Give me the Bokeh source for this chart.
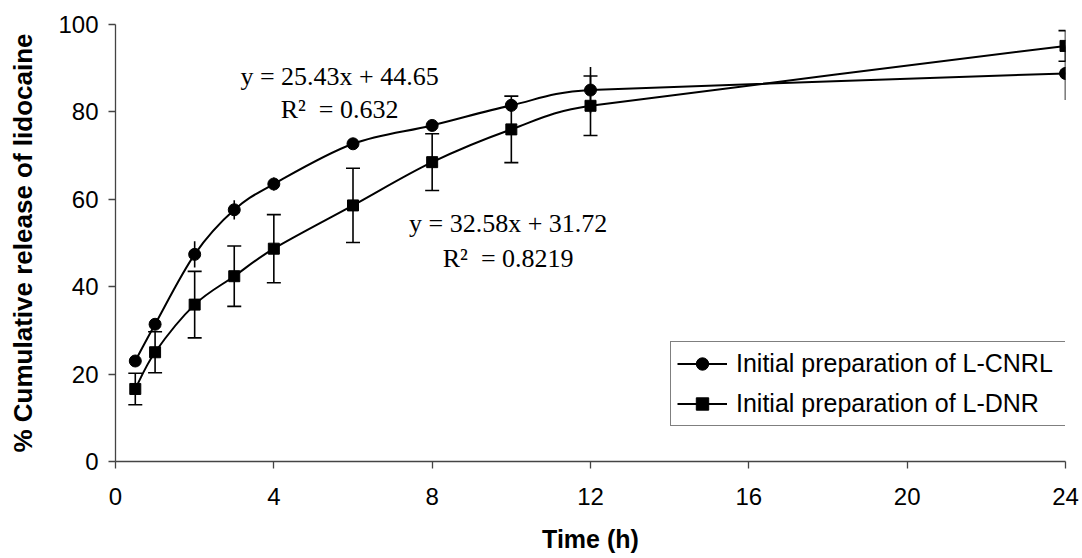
import math
from bokeh.plotting import figure
from bokeh.models import (Range1d, Whisker, TeeHead, ColumnDataSource, Legend,
                          LegendItem, Label, FixedTicker)
from bokeh.embed import file_html
from bokeh.resources import INLINE

# ---------------- data ----------------
time_h = [0.5, 1, 2, 3, 4, 6, 8, 10, 12, 24]
cnrl = [23.0, 31.4, 47.4, 57.6, 63.5, 72.7, 76.9, 81.5, 85.0, 88.8]
cnrl_err = [0.8, 1.0, 3.0, 2.2, 1.5, 0.8, 0.8, 1.5, 5.3, 6.1]
dnr = [16.6, 25.0, 35.9, 42.4, 48.7, 58.6, 68.5, 76.0, 81.4, 95.1]
dnr_err = [3.6, 4.7, 7.6, 6.9, 7.8, 8.5, 6.5, 7.6, 6.8, 3.5]
x_ticks = [0, 4, 8, 12, 16, 20, 24]
y_ticks = [0, 20, 40, 60, 80, 100]
series_labels = ["Initial preparation of L-CNRL", "Initial preparation of L-DNR"]
eq_cnrl = ["y = 25.43x + 44.65", "R\u00b2\u00a0 = 0.632"]
eq_dnr = ["y = 32.58x + 31.72", "R\u00b2\u00a0 = 0.8219"]
x_title = "Time (h)"
y_title = "% Cumulative release of lidocaine"

# ---------------- layout ----------------
W, H = 1082, 558
BL, BR, BT, BB = 115, 17, 24, 97
frame_w = W - BL - BR
frame_h = H - BT - BB
sx = frame_w / (x_ticks[-1] - x_ticks[0])   # px per hour
sy = frame_h / (y_ticks[-1] - y_ticks[0])   # px per percent


def smooth_segments(xs, ys):
    """Excel-like smoothed line: cubic Bezier control points per segment."""
    n = len(xs)
    pts = [(x * sx, y * sy) for x, y in zip(xs, ys)]

    def dist(a, b):
        return math.hypot(a[0] - b[0], a[1] - b[1])

    tans = []
    for i in range(n):
        if i == 0:
            t = (pts[1][0] - pts[0][0], pts[1][1] - pts[0][1])
            lim = dist(pts[0], pts[1])
        elif i == n - 1:
            t = (pts[-1][0] - pts[-2][0], pts[-1][1] - pts[-2][1])
            lim = dist(pts[-1], pts[-2])
        else:
            t = (pts[i + 1][0] - pts[i - 1][0], pts[i + 1][1] - pts[i - 1][1])
            lim = min(dist(pts[i], pts[i - 1]), dist(pts[i], pts[i + 1]))
        tl = math.hypot(*t) or 1.0
        f = min(1.0 / 6.0, 0.5 * lim / tl)
        tans.append((t[0] * f / sx, t[1] * f / sy))
    d = dict(x0=[], y0=[], x1=[], y1=[], cx0=[], cy0=[], cx1=[], cy1=[])
    for i in range(n - 1):
        d["x0"].append(xs[i]); d["y0"].append(ys[i])
        d["x1"].append(xs[i + 1]); d["y1"].append(ys[i + 1])
        d["cx0"].append(xs[i] + tans[i][0]); d["cy0"].append(ys[i] + tans[i][1])
        d["cx1"].append(xs[i + 1] - tans[i + 1][0]); d["cy1"].append(ys[i + 1] - tans[i + 1][1])
    return ColumnDataSource(d)


p = figure(width=W, height=H, x_range=Range1d(0, 24), y_range=Range1d(0, 100),
           output_backend="svg", toolbar_location=None,
           min_border_left=BL, min_border_right=BR, min_border_top=BT,
           min_border_bottom=BB)
p.outline_line_color = None
p.grid.visible = False
p.background_fill_color = "white"
p.border_fill_color = "white"

for ax in (p.xaxis[0], p.yaxis[0]):
    ax.axis_line_color = "#444444"
    ax.axis_line_width = 1.3
    ax.major_tick_line_color = "#444444"
    ax.major_tick_line_width = 1.3
    ax.major_tick_out = 7
    ax.major_tick_in = 0
    ax.minor_tick_out = 0
    ax.minor_tick_in = 0
    ax.major_label_text_font = "Liberation Sans"
    ax.major_label_text_font_size = "24px"
    ax.major_label_text_color = "black"
    ax.axis_label_text_font = "Liberation Sans"
    ax.axis_label_text_font_style = "bold"
    ax.axis_label_text_color = "black"

p.xaxis.axis_label_text_font_size = "25px"
p.yaxis.axis_label_text_font_size = "26px"
p.xaxis.ticker = FixedTicker(ticks=x_ticks)
p.yaxis.ticker = FixedTicker(ticks=y_ticks)
p.xaxis.axis_label = x_title
p.yaxis.axis_label = y_title
p.xaxis.major_label_standoff = 19
p.xaxis.axis_label_standoff = 17
p.yaxis.major_label_standoff = 10
p.yaxis.axis_label_standoff = 17

# ---------------- error bars ----------------
src_c = ColumnDataSource(dict(x=time_h, y=cnrl,
                              lo=[v - e for v, e in zip(cnrl, cnrl_err)],
                              hi=[v + e for v, e in zip(cnrl, cnrl_err)]))
src_d = ColumnDataSource(dict(x=time_h, y=dnr,
                              lo=[v - e for v, e in zip(dnr, dnr_err)],
                              hi=[v + e for v, e in zip(dnr, dnr_err)]))

p.segment(x0="x", y0="lo", x1="x", y1="hi", source=src_c,
          line_color="black", line_width=1.6)
p.add_layout(Whisker(base="x", upper="hi", lower="lo", source=src_d,
                     line_color="black", line_width=1.6,
                     upper_head=TeeHead(size=14, line_width=1.6, line_color="black"),
                     lower_head=TeeHead(size=14, line_width=1.6, line_color="black")))

# ---------------- smoothed lines + markers ----------------
bz_c = p.bezier(x0="x0", y0="y0", x1="x1", y1="y1", cx0="cx0", cy0="cy0",
                cx1="cx1", cy1="cy1", source=smooth_segments(time_h, cnrl),
                line_color="black", line_width=2)
bz_d = p.bezier(x0="x0", y0="y0", x1="x1", y1="y1", cx0="cx0", cy0="cy0",
                cx1="cx1", cy1="cy1", source=smooth_segments(time_h, dnr),
                line_color="black", line_width=2)
sc_c = p.scatter("x", "y", source=src_c, marker="circle", size=12,
                 fill_color="black", line_color="black")
sc_d = p.scatter("x", "y", source=src_d, marker="square", size=11,
                 fill_color="black", line_color="black")

# ---------------- trendline equations ----------------
for i, txt in enumerate(eq_cnrl):
    p.add_layout(Label(x=5.66, y=[88.2, 80.6][i], x_units="data", y_units="data",
                       text=txt, text_font="Liberation Serif", text_font_size="26px",
                       text_align="center", text_baseline="middle",
                       text_color="black"))
for i, txt in enumerate(eq_dnr):
    p.add_layout(Label(x=9.92, y=[54.5, 46.5][i], x_units="data", y_units="data",
                       text=txt, text_font="Liberation Serif", text_font_size="26px",
                       text_align="center", text_baseline="middle",
                       text_color="black"))

# ---------------- legend ----------------
legend = Legend(items=[LegendItem(label=series_labels[0], renderers=[bz_c, sc_c]),
                       LegendItem(label=series_labels[1], renderers=[bz_d, sc_d])],
                location=(555, 35), orientation="vertical")
legend.label_text_font = "Liberation Sans"
legend.label_text_font_size = "25px"
legend.label_text_color = "black"
legend.glyph_width = 50
legend.glyph_height = 31
legend.label_height = 31
legend.label_standoff = 9
legend.label_width = 326
legend.spacing = 9
legend.padding = 6
legend.margin = 0
legend.border_line_color = "black"
legend.border_line_width = 1.2
legend.background_fill_color = "white"
legend.background_fill_alpha = 1.0
p.add_layout(legend, "center")

open("out.html", "w").write(file_html(p, INLINE))
